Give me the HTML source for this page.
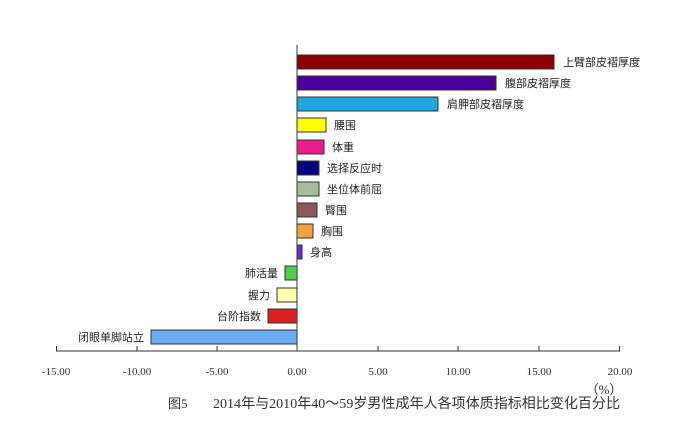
<!DOCTYPE html>
<html><head><meta charset="utf-8"><style>
body{margin:0;background:#fff}
svg text{font-family:"Liberation Serif","Noto Sans CJK SC",serif}
</style></head><body>
<svg width="691" height="432" xmlns="http://www.w3.org/2000/svg">
<rect width="691" height="432" fill="#fff"/>
<g stroke="#333" stroke-width="1">
<rect x="297" y="55" width="257" height="14" fill="#8b0000"/>
<rect x="297" y="76" width="199" height="14" fill="#4b0099"/>
<rect x="297" y="97" width="141" height="14" fill="#1ea7e1"/>
<rect x="297" y="118" width="29" height="14" fill="#ffff00"/>
<rect x="297" y="140" width="27" height="14" fill="#e91e8c"/>
<rect x="297" y="161" width="22" height="14" fill="#000080"/>
<rect x="297" y="182" width="22" height="14" fill="#a8bc9a"/>
<rect x="297" y="203" width="20" height="14" fill="#8b5a5a"/>
<rect x="297" y="224" width="16" height="14" fill="#f5a040"/>
<rect x="297" y="245" width="5" height="14" fill="#6a2fd0"/>
<rect x="285" y="266" width="12" height="14" fill="#4cd04c"/>
<rect x="277" y="288" width="20" height="14" fill="#ffffaa"/>
<rect x="268" y="309" width="29" height="14" fill="#d92020"/>
<rect x="151" y="330" width="146" height="14" fill="#6aaaf0"/>
</g>
<line x1="297" y1="45" x2="297" y2="351" stroke="#333"/>
<line x1="56" y1="351" x2="620" y2="351" stroke="#333"/>
<g stroke="#333">
<line x1="56.5" y1="346" x2="56.5" y2="351"/><line x1="137" y1="346" x2="137" y2="351"/>
<line x1="217" y1="346" x2="217" y2="351"/><line x1="378" y1="346" x2="378" y2="351"/>
<line x1="458" y1="346" x2="458" y2="351"/><line x1="539" y1="346" x2="539" y2="351"/>
<line x1="619.5" y1="346" x2="619.5" y2="351"/>
</g>
<g font-size="11" fill="#222">
<text x="563" y="66">上臂部皮褶厚度</text>
<text x="505" y="87">腹部皮褶厚度</text>
<text x="447" y="108">肩胛部皮褶厚度</text>
<text x="334" y="129">腰围</text>
<text x="332" y="151">体重</text>
<text x="327" y="172">选择反应时</text>
<text x="327" y="193">坐位体前屈</text>
<text x="325" y="214">臀围</text>
<text x="321" y="235">胸围</text>
<text x="310" y="256">身高</text>
<g text-anchor="end">
<text x="278" y="277">肺活量</text>
<text x="270" y="299">握力</text>
<text x="261" y="320">台阶指数</text>
<text x="144" y="341">闭眼单脚站立</text>
</g>
</g>
<g font-size="11" fill="#333" text-anchor="middle">
<text x="56" y="375">-15.00</text><text x="137" y="375">-10.00</text>
<text x="217" y="375">-5.00</text><text x="297" y="375">0.00</text>
<text x="378" y="375">5.00</text><text x="458" y="375">10.00</text>
<text x="539" y="375">15.00</text><text x="620" y="375">20.00</text>
</g>
<text x="604" y="394" font-size="13" fill="#333" text-anchor="middle">（%）</text>
<text x="168" y="408" font-size="13" fill="#333">图5</text>
<text x="213" y="408" font-size="14" fill="#333" textLength="407" lengthAdjust="spacingAndGlyphs">2014年与2010年40～59岁男性成年人各项体质指标相比变化百分比</text>
</svg>
</body></html>
